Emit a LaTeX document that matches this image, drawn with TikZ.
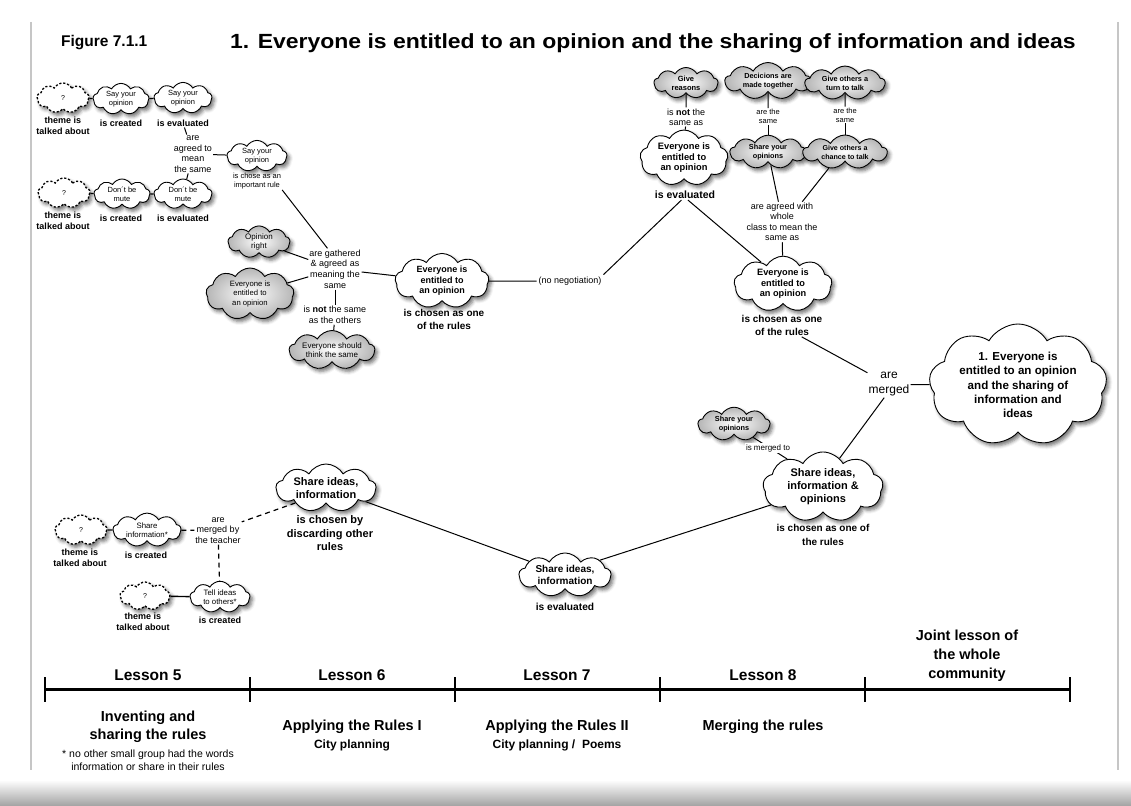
\documentclass[tikz,border=0pt]{standalone}
\usepackage{fontspec}
\setmainfont{Liberation Sans}
\usetikzlibrary{shapes.symbols,shadows.blur}
\newcommand{\fz}[2]{\fontsize{#1}{#2}\selectfont}
\begin{document}
\begin{tikzpicture}[x=1pt,y=-1pt,
  cl/.style={cloud, cloud puffs=9, cloud puff arc=120, cloud ignores aspect,
    draw=black, line width=0.9pt, fill=white, align=center, inner sep=0.6pt,
    blur shadow={shadow xshift=2.5pt, shadow yshift=-3pt, shadow blur radius=3.5pt, shadow opacity=55}},
  gcl/.style={cl, inner color=white, outer color=gray!58},
  qcl/.style={cl, dash pattern=on 2.2pt off 1.8pt, line width=1.3pt},
  lab/.style={align=center, inner sep=1pt},
  conn/.style={line width=1pt, black},
  thk/.style={line width=1.4pt, black},
  dconn/.style={line width=1.2pt, black, dash pattern=on 5pt off 4pt},
]
\useasboundingbox (0,0) rectangle (1131,805);

% page edges
\draw[gray!45, line width=1.6pt] (31,22) -- (31,770);
\draw[gray!45, line width=1.6pt] (1118,22) -- (1118,770);
\shade[top color=white, bottom color=gray!70] (0,780) rectangle (1131,805);

% heading
\node[lab, anchor=west, font=\fz{15.5}{18}\bfseries] (fig) at (60,43) {Figure 7.1.1};
\node[lab, anchor=west, font=\fz{20.5}{24}\bfseries] (title) at (229,43)
  {\scalebox{1.12}[1]{1. Everyone is entitled to an opinion and the sharing of information and ideas}};

% ---------- lesson 5, first small group ----------
\node[qcl, minimum width=52, minimum height=30, font=\fz{7}{8}] (q1) at (63,98) {?};
\node[cl, minimum width=56, minimum height=30, font=\fz{7.5}{9}] (s1) at (121,99) {Say your\\opinion};
\node[cl, minimum width=58, minimum height=30, font=\fz{7.5}{9}] (s2) at (183,98) {Say your\\opinion};
\node[lab, font=\fz{9}{11}\bfseries] (lq1) at (63,126) {theme is\\talked about};
\node[lab, font=\fz{9}{11}\bfseries] (ls1) at (121,123) {is created};
\node[lab, font=\fz{9}{11}\bfseries] (ls2) at (183,123) {is evaluated};

\node[qcl, minimum width=52, minimum height=30, font=\fz{7}{8}] (q2) at (64,193) {?};
\node[cl, minimum width=56, minimum height=30, font=\fz{7.5}{9}] (d1) at (122,194) {Don´t be\\mute};
\node[cl, minimum width=58, minimum height=30, font=\fz{7.5}{9}] (d2) at (183,194) {Don´t be\\mute};
\node[lab, font=\fz{9}{11}\bfseries] (lq2) at (63,221) {theme is\\talked about};
\node[lab, font=\fz{9}{11}\bfseries] (ls3) at (121,218) {is created};
\node[lab, font=\fz{9}{11}\bfseries] (ls4) at (183,218) {is evaluated};

\node[lab, font=\fz{9}{10.5}] (agr) at (193,154) {are\\agreed to\\mean\\the same};
\node[cl, minimum width=60, minimum height=29, font=\fz{7.5}{9}] (sy3) at (257,156) {Say your\\opinion};
\node[lab, font=\fz{7.5}{8.5}] (lsy3) at (257,181) {is chose as an\\important rule};

\draw[thk] (q1) -- (s1);
\draw[thk] (s1) -- (s2);
\draw[thk] (q2) -- (d1);
\draw[thk] (d1) -- (d2);
\draw[conn] (ls2) -- (agr);
\draw[conn] (d2) -- (agr);
\draw[conn] (agr) -- (sy3);

% ---------- lesson 6: gathering the opinion rules ----------
\node[gcl, minimum width=62, minimum height=32, font=\fz{8}{9.5}] (op) at (259,242) {Opinion\\right};
\node[gcl, minimum width=88, minimum height=52, font=\fz{7.7}{9.5}] (ev1) at (250,294) {Everyone is\\entitled to\\an opinion};
\node[lab, font=\fz{9}{10.8}] (gat) at (335,269) {are gathered\\\& agreed as\\meaning the\\same};
\node[lab, font=\fz{9}{10.5}] (notx) at (335,315) {is \textbf{not} the same\\as the others};
\node[gcl, minimum width=84, minimum height=35, font=\fz{8}{9.5}] (ev2) at (332,350) {Everyone should\\think the same};
\node[cl, minimum width=94, minimum height=52, font=\fz{9}{10.5}\bfseries] (ch1) at (442,281) {Everyone is\\entitled to\\an opinion};
\node[lab, font=\fz{10}{13}\bfseries] (lch1) at (444,319.5) {is chosen as one\\of the rules};
\node[lab, inner sep=2pt, font=\fz{9}{11}] (neg) at (570,281) {(no negotiation)};

\draw[conn] (lsy3.south east) -- (gat.110);
\draw[conn] (op) -- (gat);
\draw[conn] (ev1) -- (gat);
\draw[conn] (gat) -- (notx);
\draw[conn] (notx) -- (ev2);
\draw[conn] (gat) -- (ch1);
\draw[conn] (ch1) -- (neg);

% ---------- lesson 7: evaluating ----------
\node[gcl, minimum width=64, minimum height=31, font=\fz{7.5}{9}\bfseries] (gr) at (686,83) {Give\\reasons};
\node[gcl, minimum width=86, minimum height=29, font=\fz{7.3}{9}\bfseries] (dm) at (768,81) {Decicions are\\made together};
\node[gcl, minimum width=80, minimum height=29, font=\fz{7.3}{9}\bfseries] (gt) at (845,83) {Give others a\\turn to talk};
\node[lab, font=\fz{9}{10}] (ns) at (686,117) {is \textbf{not} the\\same as};
\node[lab, font=\fz{7.5}{9}] (as1) at (768,116.5) {are the\\same};
\node[lab, font=\fz{7.5}{9}] (as2) at (845,115) {are the\\same};
\node[cl, minimum width=88, minimum height=48, font=\fz{9.3}{10.5}\bfseries] (ev3) at (684,158) {Everyone is\\entitled to\\an opinion};
\node[lab, font=\fz{10.5}{13}\bfseries] (lev3) at (685,195) {is evaluated};
\node[gcl, minimum width=76, minimum height=29, font=\fz{7.3}{9}\bfseries] (sy4) at (768,152) {Share your\\opinions};
\node[gcl, minimum width=84, minimum height=29, font=\fz{7.1}{9}\bfseries] (gc) at (845,152) {Give others a\\chance to talk};
\node[lab, font=\fz{9}{10.5}] (aw) at (782,222) {are agreed with\\whole\\class to mean the\\same as};

\draw[conn] (gr) -- (ns);
\draw[conn] (ns) -- (ev3);
\draw[conn] (dm) -- (as1);
\draw[conn] (as1) -- (sy4);
\draw[conn] (gt) -- (as2);
\draw[conn] (as2) -- (gc);
\draw[conn] (sy4) -- (aw.100);
\draw[conn] (gc.225) -- (aw.45);
\draw[conn] (neg.north east) -- (lev3.235);

% ---------- lesson 8: merging ----------
\node[cl, minimum width=98, minimum height=52, font=\fz{9.2}{10.5}\bfseries] (ch2) at (783,284) {Everyone is\\entitled to\\an opinion};
\node[lab, font=\fz{10}{13}\bfseries] (lch2) at (782,325.5) {is chosen as one\\of the rules};
\node[lab, font=\fz{12}{15}] (mer) at (889,384.5) {are\\merged};
\node[cl, minimum width=178, minimum height=104, font=\fz{11.6}{14.3}\bfseries] (big) at (1018,385)
  {1. Everyone is\\entitled to an opinion\\and the sharing of\\information and\\ideas};
\node[gcl, minimum width=72, minimum height=28, font=\fz{7.3}{9}\bfseries] (sy5) at (734,424) {Share your\\opinions};
\node[cl, minimum width=120, minimum height=60, font=\fz{11}{13}\bfseries] (sio) at (823,487) {Share ideas,\\information \&\\opinions};
\node[lab, font=\fz{10}{13.5}\bfseries] (lsio) at (823,535) {is chosen as one of\\the rules};

\draw[conn] (aw) -- (ch2);
\draw[conn] (lev3.-60) -- (ch2.135);
\draw[conn] (lch2.-30) -- (mer);
\draw[conn] (mer) -- (big);
\draw[conn] (mer.250) -- (sio.60);
\draw[conn] (sy5.-35) -- (sio.142);
\node[fill=white, inner sep=1pt, font=\fz{8}{9}] (imt) at (768,448) {is merged to};

% ---------- lessons 5-7: sharing information ----------
\node[cl, minimum width=92, minimum height=44, font=\fz{10}{12}\bfseries] (sie) at (565,575) {Share ideas,\\information};
\node[lab, font=\fz{10.2}{12}\bfseries] (lsie) at (565,607) {is evaluated};
\node[cl, minimum width=100, minimum height=48, font=\fz{11}{13}\bfseries] (sci) at (326,488) {Share ideas,\\information};
\node[lab, font=\fz{11}{13.5}\bfseries] (lsci) at (330,533.5) {is chosen by\\discarding other\\rules};
\node[lab, font=\fz{9}{10.5}] (mbt) at (218,530.5) {are\\merged by\\the teacher};

\node[qcl, minimum width=52, minimum height=30, font=\fz{7}{8}] (q3) at (81,530) {?};
\node[lab, font=\fz{9}{11}\bfseries] (lq3) at (80,557.5) {theme is\\talked about};
\node[cl, minimum width=68, minimum height=30, font=\fz{7.8}{9.5}] (si) at (147,530) {Share\\information*};
\node[lab, font=\fz{9}{11}\bfseries] (lsi) at (146,555) {is created};
\node[qcl, minimum width=50, minimum height=28, font=\fz{7}{8}] (q4) at (145,596) {?};
\node[lab, font=\fz{9}{11}\bfseries] (lq4) at (143,621.5) {theme is\\talked about};
\node[cl, minimum width=60, minimum height=30, font=\fz{7.8}{9.5}] (ti) at (220,597) {Tell ideas\\to others*};
\node[lab, font=\fz{9}{11}\bfseries] (lti) at (220,620) {is created};

\draw[conn] (sio.199) -- (sie.23);
\draw[conn] (sci.-19) -- (sie.159);
\draw[dconn] (sci.206) -- (mbt.20);
\draw[thk] (q3) -- (si);
\draw[dconn] (si) -- (mbt);
\draw[dconn] (mbt) -- (ti);
\draw[thk] (q4) -- (ti);

% ---------- time line ----------
\draw[line width=3pt] (45,689) -- (1070,689);
\foreach \tx in {45,250,455,660,865,1070}
  \draw[line width=1.6pt] (\tx,677) -- (\tx,702);
\node[lab, font=\fz{15.5}{18}\bfseries] (les5) at (148,675) {Lesson 5};
\node[lab, font=\fz{15.5}{18}\bfseries] (les6) at (352,675) {Lesson 6};
\node[lab, font=\fz{15.5}{18}\bfseries] (les7) at (557,675) {Lesson 7};
\node[lab, font=\fz{15.5}{18}\bfseries] (les8) at (763,675) {Lesson 8};
\node[lab, font=\fz{14.5}{19}\bfseries] (joint) at (967,656) {Joint lesson of\\the whole\\community};
\node[lab, font=\fz{14.5}{18}\bfseries] (inv) at (148,727) {Inventing and\\sharing the rules};
\node[lab, font=\fz{10.5}{13}] (foot) at (148,760) {* no other small group had the words\\information or share in their rules};
\node[lab, font=\fz{14.5}{18}\bfseries] (ap1) at (352,727) {Applying the Rules I};
\node[lab, font=\fz{12}{14}\bfseries] (cp1) at (352,745) {City planning};
\node[lab, font=\fz{14.5}{18}\bfseries] (ap2) at (557,727) {Applying the Rules II};
\node[lab, font=\fz{12}{14}\bfseries] (cp2) at (557,745) {City planning /\ \ Poems};
\node[lab, font=\fz{14.5}{18}\bfseries] (mrg) at (763,727) {Merging the rules};
\end{tikzpicture}
\end{document}
